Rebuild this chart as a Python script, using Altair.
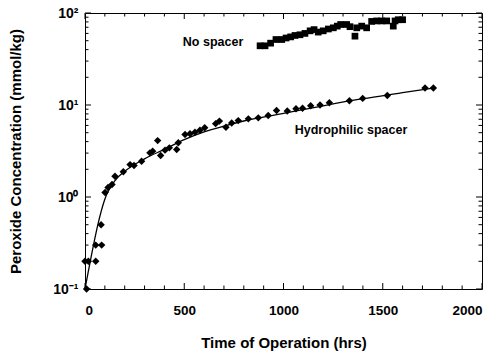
import altair as alt
import pandas as pd

# Hydrophilic spacer (diamonds)
hydro_x = [0, 17, 8, 54, 54, 84, 81, 101, 116, 136, 151, 193, 227, 247, 285, 327, 341,
           366, 381, 403, 425, 462, 470, 504, 529, 554, 579, 603, 658, 677, 710, 739, 772,
           823, 873, 923, 965, 1019, 1063, 1096, 1137, 1184, 1231, 1332, 1399, 1523, 1713, 1755]
hydro_y = [0.2, 0.2, 0.1, 0.2, 0.3, 0.3, 0.5, 1.12, 1.27, 1.37, 1.68, 1.88, 2.25, 2.2, 2.45,
           3.02, 3.15, 4.1, 2.83, 3.23, 3.42, 3.28, 3.88, 4.77, 4.86, 5.06, 5.32, 5.65, 6.27,
           6.68, 5.74, 6.38, 6.77, 7.07, 7.25, 7.7, 8.7, 8.6, 9.1, 9.2, 9.8, 10.0, 10.6, 11.1,
           11.8, 12.7, 15.3, 15.3]

# Fitted curve through hydrophilic spacer data
fit_x = [0, 108, 150, 200, 300, 400, 500, 600, 700, 800, 1000, 1200, 1400, 1600, 1755]
fit_y = [0.1, 1.05, 1.5, 1.9, 2.6, 3.3, 4.2, 5.1, 5.9, 6.7, 8.1, 9.8, 11.7, 13.6, 15.3]

# No spacer (squares)
ns_x = [882, 907, 935, 962, 991, 1013, 1036, 1058, 1083, 1108, 1134, 1154, 1175, 1200, 1226,
        1251, 1271, 1288, 1318, 1335, 1360, 1369, 1394, 1419, 1444, 1469, 1494, 1520, 1553,
        1562, 1578, 1600]
ns_y = [44, 44, 47, 51.5, 51.5, 53.5, 55, 57, 58, 60, 64, 66, 62, 64, 67, 69, 72, 75, 75, 71,
        56, 69, 72, 69, 81, 82, 82, 82, 72, 82, 84.5, 84.5]

x_major = [0, 500, 1000, 1500, 2000]
x_minor = [v for v in range(0, 2001, 100) if v % 500 != 0]
y_major = [0.1, 1, 10, 100]
y_minor = [round(m * d, 3) for d in (0.1, 1, 10) for m in range(2, 10)]

ann_text = ["No spacer", "Hydrophilic spacer"]
ann_x = [645, 1340]
ann_y = [47.8, 5.3]

W, H = 397, 276
MAJ, MIN = 6, 3.5

hydro = pd.DataFrame({"t": hydro_x, "c": hydro_y})
fit = pd.DataFrame({"t": fit_x, "c": fit_y})
ns = pd.DataFrame({"t": ns_x, "c": ns_y})
ann = pd.DataFrame({"t": ann_x, "c": ann_y, "label": ann_text})

xs = alt.Scale(domain=[0, 2000], nice=False, zero=False)
ys = alt.Scale(type="log", domain=[0.1, 100], nice=False)

ylab = ("datum.value >= 100 ? '10²' : datum.value >= 10 ? '10¹' : "
        "datum.value >= 1 ? '10⁰' : '10⁻¹'")

squares = alt.Chart(ns).mark_point(shape="square", filled=True, color="black", size=45,
                                   opacity=1).encode(
    x=alt.X("t:Q", scale=xs, axis=alt.Axis(orient="bottom", values=x_major, ticks=False,
                                           domain=False, labelPadding=14, labelFontSize=13.5,
                                           title="Time of Operation (hrs)", titleFontSize=15,
                                           titlePadding=19, format="d")),
    y=alt.Y("c:Q", scale=ys, axis=alt.Axis(orient="left", values=y_major, ticks=False,
                                           domain=False, labelPadding=7, labelFontSize=14,
                                           labelExpr=ylab,
                                           title="Peroxide Concentration (mmol/kg)",
                                           titleFontSize=15, titlePadding=29)),
)

diamonds = alt.Chart(hydro).mark_point(shape="diamond", filled=True, color="black", size=55,
                                       opacity=1).encode(
    x=alt.X("t:Q", scale=xs, axis=None),
    y=alt.Y("c:Q", scale=ys, axis=None),
)

line = alt.Chart(fit).mark_line(color="black", strokeWidth=1.3, interpolate="monotone").encode(
    x=alt.X("t:Q", scale=xs, axis=None),
    y=alt.Y("c:Q", scale=ys, axis=None),
)

txt = alt.Chart(ann).mark_text(fontSize=12.5, fontWeight="bold", font="Liberation Sans",
                               color="black").encode(
    x=alt.X("t:Q", scale=xs, axis=None),
    y=alt.Y("c:Q", scale=ys, axis=None),
    text="label:N",
)


def xticks(vals, length):
    d = pd.DataFrame({"v": vals})
    bot = alt.Chart(d).mark_rule(color="black", strokeWidth=1).encode(
        x=alt.X("v:Q", scale=xs, axis=None), y=alt.value(H), y2=alt.value(H - length))
    top = alt.Chart(d).mark_rule(color="black", strokeWidth=1).encode(
        x=alt.X("v:Q", scale=xs, axis=None), y=alt.value(0), y2=alt.value(length))
    return [bot, top]


def yticks(vals, length):
    d = pd.DataFrame({"v": vals})
    left = alt.Chart(d).mark_rule(color="black", strokeWidth=1).encode(
        y=alt.Y("v:Q", scale=ys, axis=None), x=alt.value(0), x2=alt.value(length))
    right = alt.Chart(d).mark_rule(color="black", strokeWidth=1).encode(
        y=alt.Y("v:Q", scale=ys, axis=None), x=alt.value(W), x2=alt.value(W - length))
    return [left, right]


tick_layers = (xticks(x_major, MAJ) + xticks(x_minor, MIN)
               + yticks(y_major, MAJ) + yticks(y_minor, MIN))

chart = alt.layer(squares, diamonds, line, txt, *tick_layers).resolve_axis(
    x="independent", y="independent"
).properties(
    width=W, height=H, autosize=alt.AutoSizeParams(type="none"),
    padding={"left": 85, "top": 13, "right": 18, "bottom": 65},
    background="white",
).configure_axis(
    grid=False, labelFont="Liberation Sans", labelFontWeight="bold", labelColor="black",
    titleFont="Liberation Sans", titleFontWeight="bold", titleColor="black",
).configure_view(stroke="black", strokeWidth=1)

chart.save("out.html", embed_options={"renderer": "svg", "actions": False})
